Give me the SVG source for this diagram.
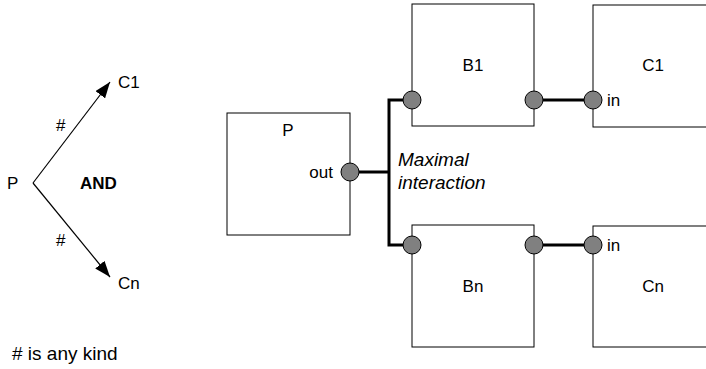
<svg xmlns="http://www.w3.org/2000/svg" width="706" height="369" viewBox="0 0 706 369">
  <style>
    text { font-family: "Liberation Sans", Arial, sans-serif; font-size: 17px; fill: #000; }
    .big { font-size: 19px; }
    .box { fill: #fff; stroke: #000; stroke-width: 1; }
    .port { fill: #808080; stroke: #000; stroke-width: 1; }
    .wire { fill: none; stroke: #000; stroke-width: 3; }
    .thin { fill: none; stroke: #000; stroke-width: 1.2; }
    .mid { text-anchor: middle; }
  </style>
  <defs>
    <marker id="arrow" viewBox="0 0 16 12" refX="16" refY="6" markerWidth="16" markerHeight="12" markerUnits="userSpaceOnUse" orient="auto">
      <path d="M0,0 L16,6 L0,12 z" fill="#000"/>
    </marker>
  </defs>

  <!-- Schematic: P branches to C1 and Cn -->
  <g id="schema">
    <text x="7" y="189">P</text>
    <path class="thin" d="M33,183 L110,82" marker-end="url(#arrow)"/>
    <path class="thin" d="M33,183 L110,277" marker-end="url(#arrow)"/>
    <text x="118" y="88">C1</text>
    <text x="118" y="289">Cn</text>
    <text x="56" y="131">#</text>
    <text x="56" y="246">#</text>
    <text x="80" y="189" style="font-weight:bold">AND</text>
    <text class="big" x="12" y="360">#  is any kind</text>
  </g>

  <!-- Connectors -->
  <g id="connectors">
    <path class="wire" d="M359,172 L389,172 M412,100 L389,100 L389,245 L412,245"/>
    <path class="wire" d="M534,100 L593,100"/>
    <path class="wire" d="M534,245 L593,245"/>
    <text class="big" x="398" y="166" style="font-style:italic">Maximal</text>
    <text class="big" x="398" y="189" style="font-style:italic">interaction</text>
  </g>

  <g id="P">
    <rect class="box" x="227" y="113" width="123" height="122"/>
    <text class="mid" x="288" y="136">P</text>
    <text x="333" y="178" text-anchor="end">out</text>
    <circle class="port" cx="350" cy="172" r="9"/>
  </g>

  <g id="B1">
    <rect class="box" x="412" y="4" width="122" height="122"/>
    <text class="mid" x="473" y="71">B1</text>
    <circle class="port" cx="412" cy="100" r="9"/>
    <circle class="port" cx="534" cy="100" r="9"/>
  </g>

  <g id="Bn">
    <rect class="box" x="412" y="225" width="122" height="122"/>
    <text class="mid" x="473" y="292">Bn</text>
    <circle class="port" cx="412" cy="245" r="9"/>
    <circle class="port" cx="534" cy="245" r="9"/>
  </g>

  <g id="C1">
    <rect class="box" x="593" y="5" width="130" height="122"/>
    <text class="mid" x="653" y="71">C1</text>
    <text x="607" y="106">in</text>
    <circle class="port" cx="593" cy="100" r="9"/>
  </g>

  <g id="Cn">
    <rect class="box" x="593" y="226" width="130" height="121"/>
    <text class="mid" x="653" y="292">Cn</text>
    <text x="607" y="251">in</text>
    <circle class="port" cx="593" cy="245" r="9"/>
  </g>
</svg>
